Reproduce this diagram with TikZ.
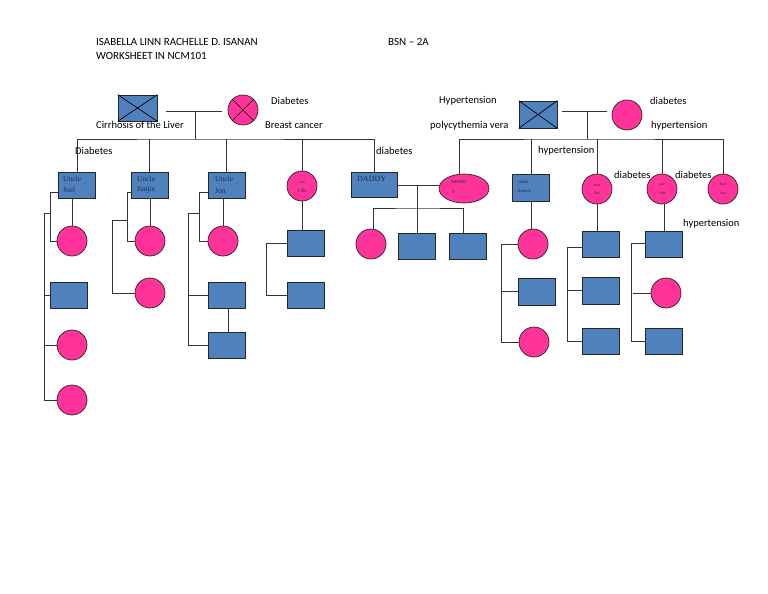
\documentclass[tikz,border=0pt]{standalone}
\usepackage{fontspec}
\setmainfont{Carlito}
\newfontfamily\srf{Liberation Serif}
\usetikzlibrary{shapes.geometric,calc}
\definecolor{boxblue}{HTML}{4F81BD}
\definecolor{pinkc}{HTML}{FF3399}
\definecolor{inktext}{HTML}{1F2A55}
\begin{document}
\begin{tikzpicture}[x=1pt,y=-1pt,
  mbox/.style={draw=black!85, fill=boxblue, minimum width=37pt, minimum height=26pt, inner sep=0pt, line width=0.7pt},
  fcirc/.style={circle, draw=black!85, fill=pinkc, minimum size=30pt, inner sep=0pt, line width=0.7pt},
  ln/.style={draw=black!80, line width=0.8pt},
  lbl/.style={font=\fontsize{10.5}{11}\selectfont, inner sep=0pt, anchor=west},
  hdr/.style={font=\fontsize{11}{12}\selectfont, inner sep=0pt, anchor=west},
  tin/.style={font=\srf\fontsize{7.5}{8}\selectfont, text=inktext, inner sep=0pt, anchor=west},
  tiny/.style={font=\fontsize{3.5}{4}\selectfont, text=inktext, inner sep=0pt},
]
\useasboundingbox (0,0) rectangle (768,594);
\fill[white] (0,0) rectangle (768,594);

% header
\node[hdr] (h1) at (96,42) {ISABELLA LINN RACHELLE D. ISANAN};
\node[hdr] (h2) at (96,56) {WORKSHEET IN NCM101};
\node[hdr] (h3) at (388,42) {BSN -- 2A};

% grandparents left
\node[mbox, minimum width=39pt] (gf1) at (137.5,108) {};
\draw[line width=0.7pt] (gf1.north west) -- (gf1.south east) (gf1.south west) -- (gf1.north east);
\node[fcirc] (gm1) at (243,110) {};
\draw[line width=0.7pt] (gm1.north west) -- (gm1.south east) (gm1.south west) -- (gm1.north east);
\coordinate (m1L) at (166,111);
\coordinate (m1R) at (222,111);
\coordinate (m1) at (195,111);
\coordinate (s1) at (195,139);
\draw[ln] (m1L) -- (m1R);
\draw[ln] (m1) -- (s1);

% grandparents right
\node[mbox, minimum width=38pt, minimum height=27pt] (gf2) at (538,114.5) {};
\draw[line width=0.7pt] (gf2.north west) -- (gf2.south east) (gf2.south west) -- (gf2.north east);
\node[fcirc] (gm2) at (627,115) {};
\coordinate (m2L) at (562,111);
\coordinate (m2R) at (607,111);
\coordinate (m2) at (587,111);
\coordinate (s2) at (587,139);
\draw[ln] (m2L) -- (m2R);
\draw[ln] (m2) -- (s2);

% children row
\node[mbox] (uJoel) at (77,185) {};
\node[mbox] (uJun) at (149.5,185) {};
\node[mbox] (uJon) at (226.5,185) {};
\node[fcirc] (aJo) at (302,186) {};
\node[mbox, minimum width=46pt, minimum height=25pt] (dad) at (374,184.5) {};
\node[ellipse, draw=black!85, fill=pinkc, minimum width=50pt, minimum height=29pt, inner sep=0pt, line width=0.7pt] (mom) at (464,188.5) {};
\node[mbox, minimum height=27pt] (uRom) at (531,187.5) {};
\node[fcirc] (aDes) at (597,189) {};
\node[fcirc] (aIda) at (662,189) {};
\node[fcirc] (aIma) at (723,189) {};

% texts in children
\node[tin] (tJoel1) at (63,179) {Uncle};
\node[tin] (tJoel2) at (63,190) {Joel};
\node[tin] (tJun1) at (137,179) {Uncle};
\node[tin] (tJun2) at (137,190) {Junjie};
\node[tin] (tJon1) at (215,179) {Uncle};
\node[tin] (tJon2) at (215,191) {Jon};
\node[font=\srf\fontsize{3.5}{4}\selectfont, text=inktext, inner sep=0pt] (tJo1) at (302,182) {Aun};
\node[font=\srf\fontsize{6}{7}\selectfont, text=inktext, inner sep=0pt] (tJo2) at (302,191) {t Jo};
\node[font=\srf\fontsize{8}{9}\selectfont, text=inktext, inner sep=0pt, anchor=west] (tDad) at (357,179) {DADDY};
\node[font=\srf\fontsize{4.5}{5}\selectfont, text=inktext, inner sep=0pt, anchor=west] (tMom1) at (451,182) {MOMM};
\node[font=\srf\fontsize{4.5}{5}\selectfont, text=inktext, inner sep=0pt, anchor=west] (tMom2) at (452,192) {Y};
\node[font=\fontsize{4.5}{5}\selectfont, text=inktext, inner sep=0pt, anchor=west] (tRom1) at (518,182) {Uncle};
\node[font=\fontsize{4.5}{5}\selectfont, text=inktext, inner sep=0pt, anchor=west] (tRom2) at (518,191) {Romeo};
\node[tiny] (tDes1) at (597,185) {Aunt};
\node[tiny] (tDes2) at (597,193) {Des};
\node[tiny] (tIda1) at (662,184) {Aun};
\node[tiny] (tIda2) at (662,193) {t Ida};
\node[tiny] (tIma1) at (723,184) {Aunt};
\node[tiny] (tIma2) at (723,193) {Ima};

% sibling bars
\draw[ln] (uJoel.north) |- (s1) -| (dad.north);
\draw[ln] (uJun.north) -- (uJun.north |- s1);
\draw[ln] (uJon.north) -- (uJon.north |- s1);
\draw[ln] (aJo.north) -- (aJo.north |- s1);
\draw[ln] (mom.north -| 459,0) |- (s2) -| (aIma.north);
\draw[ln] (uRom.north) -- (uRom.north |- s2);
\draw[ln] (aDes.north) -- (aDes.north |- s2);
\draw[ln] (aIda.north) -- (aIda.north |- s2);

% grandchildren: Joel
\node[fcirc] (jc1) at (72,241) {};
\node[mbox] (jb2) at (68.5,295) {};
\node[fcirc] (jc3) at (72,345) {};
\node[fcirc] (jc4) at (72,400) {};
\coordinate (jA) at (50,192);
\coordinate (jB) at (44,213);
\draw[ln] (jc1.north) -- (jc1.north |- uJoel.south);
\draw[ln] (uJoel.west |- jA) -- (jA) |- (jc1.west);
\draw[ln] (jA |- jB) -- (jB) |- (jc4.west);
\draw[ln] (jb2.west) -- (jb2.west -| jB);
\draw[ln] (jc3.west) -- (jc3.west -| jB);

% Junjie
\node[fcirc] (nc1) at (150,241) {};
\node[fcirc] (nc2) at (150,293) {};
\coordinate (nA) at (127,192);
\coordinate (nB) at (112,220);
\draw[ln] (nc1.north) -- (nc1.north |- uJun.south);
\draw[ln] (uJun.west |- nA) -- (nA) |- (nc1.west);
\draw[ln] (nA |- nB) -- (nB) |- (nc2.west);

% Jon
\node[fcirc] (oc1) at (223,241) {};
\node[mbox] (ob2) at (226.5,295) {};
\node[mbox] (ob3) at (226.5,345) {};
\coordinate (oA) at (199,192);
\coordinate (oB) at (188,213);
\draw[ln] (oc1.north) -- (oc1.north |- uJon.south);
\draw[ln] (uJon.west |- oA) -- (oA) |- (oc1.west);
\draw[ln] (oA |- oB) -- (oB) |- (ob3.west);
\draw[ln] (ob2.west) -- (ob2.west -| oB);
\draw[ln] ($(ob2.south)+(1.5,0)$) -- ($(ob3.north)+(1.5,0)$);

% Jo
\node[mbox] (pb1) at (305.5,243.5) {};
\node[mbox] (pb2) at (305.5,295) {};
\coordinate (pA) at (266,242);
\draw[ln] (aJo.south) -- (aJo.south |- pb1.north);
\draw[ln] (pb1.west) -- (pb1.west -| pA) |- (pb2.west);

% Daddy & Mommy
\coordinate (dm) at (417,185);
\coordinate (kbar) at (417,208);
\node[fcirc] (kc1) at (371,244) {};
\node[mbox] (kb2) at (417,246) {};
\node[mbox] (kb3) at (467.5,246) {};
\draw[ln] (dad.east |- dm) -- (mom.west |- dm);
\draw[ln] (dm) -- (kb2.north);
\draw[ln] ($(kc1.north)+(2,0)$) |- (kbar) -| ($(kb3.north)+(-4,0)$);

% Romeo
\node[fcirc] (rc1) at (533,244) {};
\node[mbox, minimum height=27pt] (rb2) at (536.5,291.5) {};
\node[fcirc] (rc3) at (534,342) {};
\coordinate (rA) at (501,244);
\draw[ln] (uRom.south) -- (uRom.south |- rc1.north);
\draw[ln] (rc1.west) -- (rA) |- (rc3.west);
\draw[ln] (rb2.west) -- (rb2.west -| rA);

% Des
\node[mbox] (db1) at (600.5,244) {};
\node[mbox, minimum height=27pt] (db2) at (600.5,290.5) {};
\node[mbox] (db3) at (600.5,341) {};
\coordinate (dA) at (567,247);
\draw[ln] (aDes.south) -- (aDes.south |- db1.north);
\draw[ln] (db1.west |- dA) -- (dA) |- (db3.west);
\draw[ln] (db2.west) -- (db2.west -| dA);

% Ida
\node[mbox] (ib1) at (663.5,244) {};
\node[fcirc] (ic2) at (666,293) {};
\node[mbox] (ib3) at (663.5,341) {};
\coordinate (iA) at (631,243);
\draw[ln] ($(aIda.south)+(2,0)$) -- ($(aIda.south |- ib1.north)+(2,0)$);
\draw[ln] (ib1.west |- iA) -- (iA) |- (ib3.west);
\draw[ln] (ic2.west) -- ($(ic2.west -| iA)+(2,0)$);

% condition labels
\node[lbl] (l1) at (271,101) {Diabetes};
\node[lbl] (l2) at (96,125) {Cirrhosis of the Liver};
\node[lbl] (l3) at (265,125) {Breast cancer};
\node[lbl] (l4) at (75,151) {Diabetes};
\node[lbl] (l5) at (376,151) {diabetes};
\node[lbl] (l6) at (439,101) {Hypertension};
\node[lbl] (l7) at (430,126) {polycythemia vera};
\node[lbl] (l8) at (650,101) {diabetes};
\node[lbl] (l9) at (651,126) {hypertension};
\node[lbl] (l10) at (538,151) {hypertension};
\node[lbl] (l11) at (614,175) {diabetes};
\node[lbl] (l12) at (675,175) {diabetes};
\node[lbl] (l13) at (683,224) {hypertension};
\end{tikzpicture}
\end{document}
